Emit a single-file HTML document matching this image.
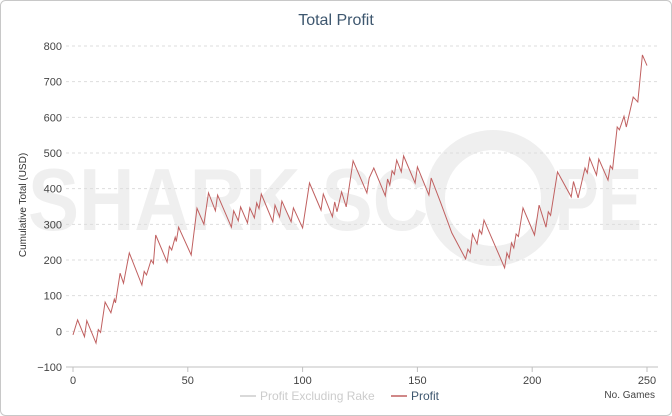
<!DOCTYPE html>
<html><head><meta charset="utf-8"><style>
body{margin:0;background:#fff;font-family:"Liberation Sans",sans-serif}
svg{display:block}
</style></head><body>
<svg width="672" height="416" xmlns="http://www.w3.org/2000/svg">
<rect x="0.5" y="0.5" width="671" height="415" rx="5" fill="#fff" stroke="#c8c8c8"/>
<g fill="#efefef" font-family="Liberation Sans" font-weight="bold">
<text x="28" y="230" font-size="88" textLength="400" lengthAdjust="spacingAndGlyphs">SHARK SC</text>
<circle cx="493" cy="198" r="58" fill="none" stroke="#efefef" stroke-width="20"/>
<text x="555" y="230" font-size="88" textLength="87" lengthAdjust="spacingAndGlyphs">PE</text>
</g>
<text x="336" y="25" text-anchor="middle" font-size="16" fill="#3e576f">Total Profit</text>
<text transform="translate(26,205) rotate(-90)" text-anchor="middle" font-size="10" fill="#333">Cumulative Total (USD)</text>
<g id="grid"></g><g id="yt"></g><g id="xt"></g>
<path id="line" fill="none" stroke="#c06060" stroke-width="1"/>
<text x="655" y="398" text-anchor="end" font-size="10" fill="#444">No. Games</text>
<g>
<line x1="240" y1="396" x2="256" y2="396" stroke="#ccc" stroke-width="1.5"/>
<text x="260" y="400" font-size="12" fill="#ccc">Profit Excluding Rake</text></g>
<g>
<line x1="391" y1="396" x2="407" y2="396" stroke="#c06060" stroke-width="1.5"/>
<text x="411" y="400" font-size="12" fill="#3e576f">Profit</text></g>
</svg>
<script>
const games=[0,2,5,6,10,11,12,14,16.5,18,18.5,20.5,22,24.5,30,31,32,34,35,36,41,42,43,44.5,45,46,51.5,54,57,59,62,63,69,70,72,73,76,77,79,80,81,82,87,88,90,91,95,96,100,103,108,109,113,114,115,117,119,122,128,129,131,136,137,138,139,140,141,143,144,149,150,155,156,160,165,171,172,173,174,176,177,178,179,188,189,190,191,192,193,194,196,201,203,206,207,208,211,217,218,220,223,224,225,228,229,233,234,235,237,238,240,241,244,246,248,250];
const profit=[-10,32,-15,30,-33,5,-3,82,52,90,80,163,135,220,130,168,158,200,190,270,194,238,228,264,252,292,214,345,300,388,338,382,292,338,310,349,304,346,318,360,344,385,307,354,321,365,307,346,290,416,340,385,321,363,335,391,349,478,388,430,458,380,427,410,450,440,480,447,492,416,461,382,430,363,276,203,230,220,273,245,284,273,312,178,220,205,248,234,273,266,346,270,354,292,335,325,447,377,420,374,458,444,486,438,483,424,464,455,573,565,603,573,657,643,775,745];
const yTicks=[-100,0,100,200,300,400,500,600,700,800];
const xTicks=[0,50,100,150,200,250];
const X=g=>73+g*(647-73)/250, Y=v=>46+(800-v)*(367-46)/900;
const ns="http://www.w3.org/2000/svg";
const grid=document.getElementById('grid'),yt=document.getElementById('yt'),xt=document.getElementById('xt');
yTicks.forEach(v=>{
 const l=document.createElementNS(ns,'line');
 l.setAttribute('x1',66);l.setAttribute('x2',658);l.setAttribute('y1',Y(v));l.setAttribute('y2',Y(v));
 l.setAttribute('stroke',v===-100?'#c0c0c0':'#ddd');l.setAttribute('stroke-dasharray',v===-100?'':'3,3');
 
 
 grid.appendChild(l);
 const t=document.createElementNS(ns,'text');
 t.setAttribute('x',62);t.setAttribute('y',Y(v)+4);t.setAttribute('text-anchor','end');t.setAttribute('font-size','11');t.setAttribute('fill','#444');
 t.textContent=v===-100?'−100':v;
 
 
 yt.appendChild(t);
});
xTicks.forEach(g=>{
 const l=document.createElementNS(ns,'line');
 l.setAttribute('x1',X(g));l.setAttribute('x2',X(g));l.setAttribute('y1',367);l.setAttribute('y2',372);l.setAttribute('stroke','#c0c0c0');
 
 
 xt.appendChild(l);
 const t=document.createElementNS(ns,'text');
 t.setAttribute('x',X(g));t.setAttribute('y',384);t.setAttribute('text-anchor','middle');t.setAttribute('font-size','11');t.setAttribute('fill','#444');
 t.textContent=g;
 
 
 xt.appendChild(t);
});
document.getElementById('line').setAttribute('d',games.map((g,i)=>(i?'L':'M')+X(g).toFixed(1)+','+Y(profit[i]).toFixed(1)).join(''));
</script>
</body></html>
